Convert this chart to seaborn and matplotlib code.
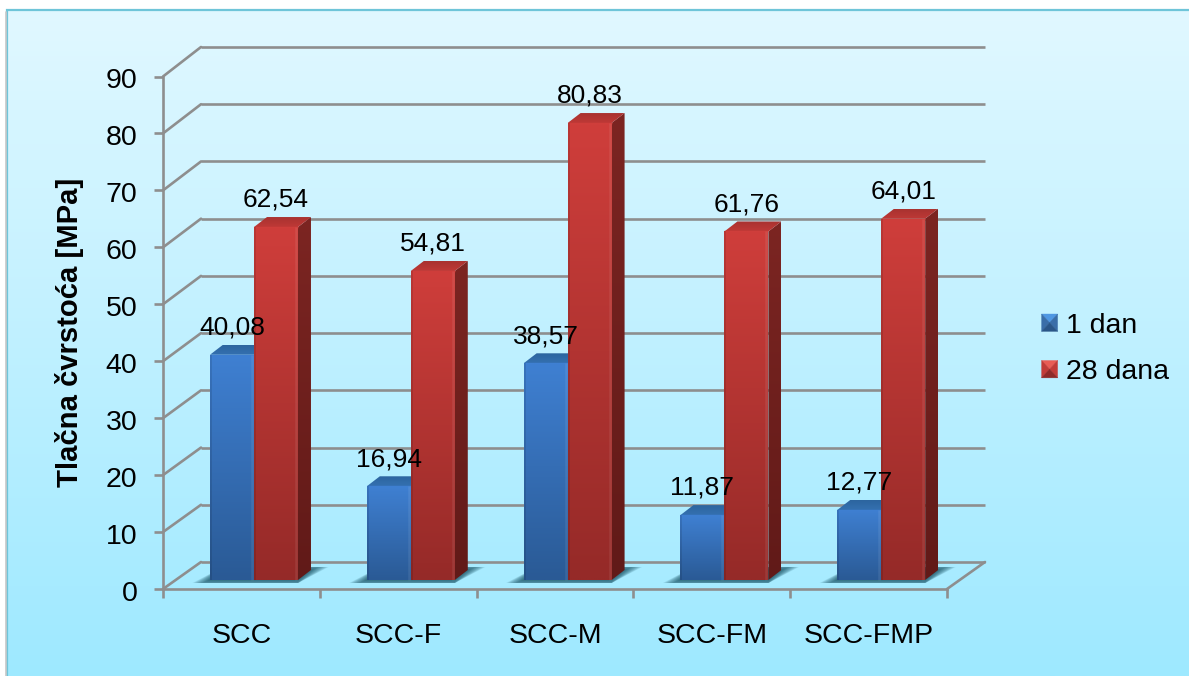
import numpy as np
import pandas as pd
import matplotlib
matplotlib.use("Agg")
import matplotlib.pyplot as plt
import matplotlib.colors as mcolors
from matplotlib.legend_handler import HandlerBase
from matplotlib.patches import ConnectionPatch, Patch, Polygon
from matplotlib.transforms import ScaledTranslation
import seaborn as sns

# === DATA
categories = ["SCC", "SCC-F", "SCC-M", "SCC-FM", "SCC-FMP"]
series_names = ["1 dan", "28 dana"]
values_1_dan = [40.08, 16.94, 38.57, 11.87, 12.77]
values_28_dana = [62.54, 54.81, 80.83, 61.76, 64.01]
y_ticks = [0, 10, 20, 30, 40, 50, 60, 70, 80, 90]
y_label = "Tlačna čvrstoća [MPa]"

# === STYLE
W, H = 1189, 676
GRID = "#8e8e8e"
FRONT = {"1 dan": ("#3f80d2", "#2a5a95"), "28 dana": ("#cf3e3b", "#952a28")}
SIDE = {"1 dan": ("#2b5c94", "#1f4470"), "28 dana": ("#7c2522", "#611a18")}
TOP = {"1 dan": ("#2c659f", "#3470b0"), "28 dana": ("#a83230", "#bf3936")}
HANDLE = {"1 dan": ("#4f97e2", "#3a6ea8", "#2a5688"), "28 dana": ("#e85d55", "#c23c38", "#8f2a28")}

sns.set_theme(style="white")
plt.rcParams["font.family"] = ["Liberation Sans", "DejaVu Sans"]


def px_axes(fig, left, right, top, bottom):
    return fig.add_axes([left / W, 1 - bottom / H, (right - left) / W, (bottom - top) / H])


def grad_fill(ax, verts, c_top, c_bottom, zorder):
    # vertical gradient clipped to a polygon
    verts = np.asarray(verts)
    ramp = np.linspace(mcolors.to_rgb(c_top), mcolors.to_rgb(c_bottom), 128)[:, None, :]
    poly = Polygon(verts, closed=True, fc="none", ec="none", transform=ax.transData)
    ax.add_patch(poly)
    im = ax.imshow(ramp, aspect="auto", zorder=zorder, interpolation="bilinear",
                   extent=(verts[:, 0].min(), verts[:, 0].max(), verts[:, 1].min(), verts[:, 1].max()))
    im.set_clip_path(poly)


class PyramidHandler(HandlerBase):
    def create_artists(self, legend, orig, xd, yd, width, height, fontsize, trans):
        light, mid, dark = HANDLE[orig.get_label()]
        x0, y0 = -xd, -yd
        x1, y1 = x0 + width, y0 + height
        c = (x0 + width / 2, y0 + height / 2)
        faces = [
            ([(x0, y1), (x1, y1), c], light),
            ([(x0, y0), (x0, y1), c], mid),
            ([(x1, y0), (x1, y1), c], mid),
            ([(x0, y0), (x1, y0), c], dark),
        ]
        return [Polygon(p, closed=True, fc=col, ec=col, lw=0.3, transform=trans) for p, col in faces]


fig = plt.figure(figsize=(W / 100, H / 100), dpi=100, facecolor="white")

# === BACKGROUND PANEL
bg = fig.add_axes([0, 0, 1, 1], zorder=0)
ramp = np.linspace(mcolors.to_rgb("#e1f8ff"), mcolors.to_rgb("#9ee9ff"), 256)[:, None, :]
bg.imshow(ramp, aspect="auto", extent=(7, W, H, 10), interpolation="bilinear")
bg.plot([7, 7, W], [H, 10, 10], color="#6fc5d9", lw=1.6, solid_joinstyle="miter")
bg.plot([5.5, 5.5], [12, H], color="#c9c9c9", lw=1.2)
bg.set_xlim(0, W)
bg.set_ylim(H, 0)
bg.axis("off")

# === BACK WALL
wall = px_axes(fig, 201, 985, 47, 562)
wall.set_zorder(1)
wall.patch.set_visible(False)
wall.set_xlim(-0.5, 4.5)
wall.set_ylim(0, 90)
wall.set_xticks([])
wall.set_yticks(y_ticks)
wall.set_yticklabels([])
wall.tick_params(length=0)
wall.grid(True, axis="y", color=GRID, lw=1.9)
for line in wall.get_ygridlines():
    line.set_clip_on(False)
    line.set_solid_capstyle("butt")
sns.despine(ax=wall, left=True, bottom=True)

# === FRONT AXIS
ax = px_axes(fig, 163, 947, 76.5, 589)
ax.set_zorder(2)
ax.patch.set_visible(False)
ax.set_xlim(-0.5, 4.5)
ax.set_ylim(0, 90)
ax.set_yticks(y_ticks)
ax.set_xticks(np.arange(len(categories) + 1) - 0.5)
ax.set_xticklabels([])
ax.set_xticks(np.arange(len(categories)), labels=categories, minor=True)
ax.tick_params(axis="x", which="major", length=6.5, width=1.9, color=GRID, bottom=True)
ax.tick_params(axis="x", which="minor", length=0, pad=24.5, labelsize=20.5, labelcolor="black")
ax.tick_params(axis="y", length=6.5, width=1.9, color=GRID, left=True, pad=12, labelsize=20.5, labelcolor="black")
ax.set_ylabel(y_label, fontsize=21.1, fontweight="bold", color="black", labelpad=15.5)
sns.despine(ax=ax)
for side in ["left", "bottom"]:
    ax.spines[side].set_color(GRID)
    ax.spines[side].set_linewidth(1.9)
for lab in ax.get_yticklabels():
    lab.set_transform(lab.get_transform() + ScaledTranslation(0, -2 / 100, fig.dpi_scale_trans))

# diagonals joining the front axis to the wall
for v in y_ticks:
    fig.add_artist(ConnectionPatch((-0.5, v), (-0.5, v), "data", "data", axesA=ax, axesB=wall,
                                   color=GRID, lw=1.9, zorder=1.5))
fig.add_artist(ConnectionPatch((4.5, 0), (4.5, 0), "data", "data", axesA=ax, axesB=wall,
                               color=GRID, lw=1.9, zorder=1.5))

# === BARS
df = pd.DataFrame({
    "kategorija": categories * 2,
    "starost": [series_names[0]] * 5 + [series_names[1]] * 5,
    "cvrstoca": values_1_dan + values_28_dana,
})

bars = px_axes(fig, 175.6, 959.6, 70.9, 582.6)
bars.set_zorder(3)
bars.patch.set_visible(False)
sns.barplot(data=df, x="kategorija", y="cvrstoca", hue="starost", order=categories,
            hue_order=series_names, palette=[FRONT[s][0] for s in series_names],
            width=0.561, gap=0, saturation=1, legend=False, ax=bars)

# pixel sizes of the bar axes, used for the 3D look
PX_X = 1 / 156.8
PX_Y = 1 / 5.686
DX = 13 * PX_X
DY = 10 * PX_Y
BASE = 2.6 * PX_Y  # bars stand slightly above the value-axis zero

z = 2.0
for name, container in zip(series_names, bars.containers):
    for rect in container:
        x0, x1 = rect.get_x(), rect.get_x() + rect.get_width()
        h = rect.get_height()
        # soft floor shadow, slanted like the floor
        if name == series_names[0]:
            x_end = x1 + (x1 - x0)
            for p in np.arange(1, 18, 1.5):
                q = min(p * 0.35, 3) * PX_Y
                shadow = [(x0 - p * PX_X, BASE - q), (x_end, BASE - q),
                          (x_end + DX + p * PX_X, BASE + DY + q), (x0 + DX, BASE + DY + q)]
                bars.add_patch(Polygon(shadow, closed=True, fc="#1f5a6c", ec="none",
                                       alpha=0.13, zorder=1.2, clip_on=False))
        grad_fill(bars, [(x1, BASE), (x1, h), (x1 + DX, h + DY), (x1 + DX, BASE + DY)], *SIDE[name], z)
        grad_fill(bars, [(x0, h), (x1, h), (x1 + DX, h + DY), (x0 + DX, h + DY)], *TOP[name], z + 0.1)
        grad_fill(bars, [(x0, BASE), (x1, BASE), (x1, h), (x0, h)], *FRONT[name], z + 0.2)
        # bevel: light top and right edge, dark left edge
        bars.plot([x0, x1], [h, h], color=FRONT[name][0], lw=1, alpha=0.9, zorder=z + 0.3, solid_capstyle="butt")
        bars.plot([x1 - 2 * PX_X] * 2, [BASE, h], color="white", lw=1.8, alpha=0.08, zorder=z + 0.3, solid_capstyle="butt")
        bars.plot([x0 + PX_X] * 2, [BASE, h], color="black", lw=1.2, alpha=0.12, zorder=z + 0.3, solid_capstyle="butt")
        rect.set_visible(False)
    z += 1
    labels = [f"{r.get_height():.2f}".replace(".", ",") for r in container]
    bars.bar_label(container, labels=labels, padding=11, fontsize=19, color="black", zorder=10)

bars.set_xlim(-0.5, 4.5)
bars.set_ylim(0, 90)
bars.axis("off")
for t in bars.texts:
    t.set_clip_on(False)

# === LEGEND
handles = [Patch(label=s) for s in series_names]
fig.legend(handles=handles, labels=series_names, loc="center left",
           bbox_to_anchor=(1016 / W, 1 - 349 / H), frameon=False, fontsize=20.5,
           handlelength=0.56, handleheight=0.56, handletextpad=0.3, labelspacing=0.72,
           handler_map={Patch: PyramidHandler()}, labelcolor="black")

fig.savefig("out.png", dpi=100, facecolor=fig.get_facecolor())
